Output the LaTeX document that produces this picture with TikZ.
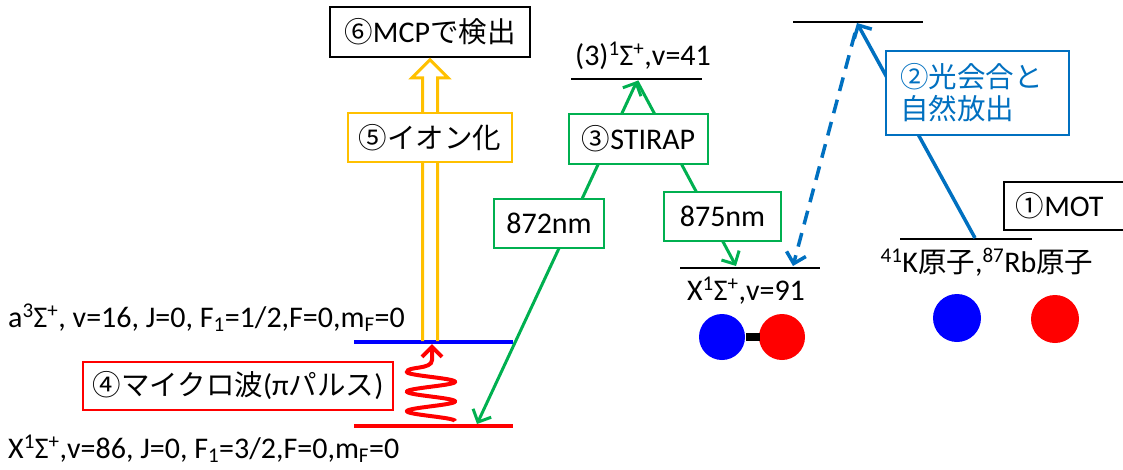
\documentclass[tikz,border=0pt]{standalone}
\usepackage{fontspec}
\setmainfont{Carlito}
\newfontfamily\jp[Scale=0.95]{Noto Sans CJK JP}
\usetikzlibrary{arrows.meta,calc}
\definecolor{obl}{RGB}{0,112,192}
\definecolor{ogr}{RGB}{0,176,80}
\definecolor{oyl}{RGB}{255,192,0}
\begin{document}
\begin{tikzpicture}[x=1pt,y=-1pt,
  every node/.style={font=\fontsize{30}{32}\selectfont, inner sep=0pt},
  lvl/.style={line width=2pt},
  box/.style={draw, line width=1.5pt, fill=white, minimum width=#1, minimum height=49},
  barb/.style={-{Straight Barb[length=10pt,width=20pt]}},
  grn/.style={ogr, line width=3pt},
  bl/.style={obl, line width=3.5pt}
]
\useasboundingbox (0,0) rectangle (1123,469);
\clip (0,0) rectangle (1123,469);
% level coordinates
\coordinate (topL) at (793,22); \coordinate (topR) at (923,22);
\coordinate (v41L) at (571,79); \coordinate (v41R) at (702,79);
\coordinate (v91L) at (680,268); \coordinate (v91R) at (820,268);
\coordinate (motL) at (900,239); \coordinate (motR) at (1032,239);
\coordinate (aL) at (354,342); \coordinate (aR) at (513,342);
\coordinate (xL) at (354,426); \coordinate (xR) at (513,426);
% levels
\draw[lvl] (topL) -- (topR);
\draw[lvl] (v41L) -- (v41R);
\draw[lvl] (v91L) -- (v91R);
\draw[lvl] (motL) -- (motR);
\draw[line width=4pt, blue] (aL) -- (aR);
\draw[line width=4pt, red] (xL) -- (xR);
% connector end points
\coordinate (apex) at (637,81);
\coordinate (x86p) at (477,424);
\coordinate (v91p) at (736,266);
\coordinate (pa) at (857,23);
\coordinate (motp) at (975,238);
\coordinate (ds) at (855,33);
\coordinate (v91q) at (793,266);
\coordinate (ionb) at (430,341);
\coordinate (mwtop) at (432,344);
% green STIRAP arrows
\draw[grn, {Straight Barb[length=10pt,width=20pt]}-{Straight Barb[length=10pt,width=20pt]}] (x86p) -- (apex);
\draw[grn, barb] (apex) -- (v91p);
% blue arrows
\draw[bl, barb] (motp) -- (pa);
\draw[bl, barb, dash pattern=on 14pt off 9pt] (ds) -- (v91q);
% microwave
\draw[red, line width=4pt, barb]
  plot[domain=0:5, samples=120, smooth] ({431+24*cos(180*\x)}, {421-9.8*\x})
  .. controls (407,366) and (432,370) .. (432,360) -- (mwtop);
% MCP box and ionisation arrow
\node[box=200, minimum height=50] (mcp) at (430,32) {{\jp ⑥}MCP{\jp で検出}};
\draw[oyl, line width=3pt, line join=miter]
  ($(ionb)+(-7.5,0)$) -- ($(mcp.south)+(-7.5,20)$) -- ($(mcp.south)+(-18,20)$)
  -- ($(mcp.south)+(0,2)$) -- ($(mcp.south)+(18,20)$) -- ($(mcp.south)+(7.5,20)$)
  -- ($(ionb)+(7.5,0)$);
% boxes
\node[box=164, draw=oyl] (ion) at (430,137.5) {{\jp ⑤イオン化}};
\node[box=139, minimum height=50, draw=ogr] (stirap) at (638.5,139) {{\jp ③}STIRAP};
\node[box=110, draw=ogr] (n872) at (549,223.5) {872nm};
\node[box=117, draw=ogr] (n875) at (722.5,216.5) {875nm};
\node[box=183, minimum height=84, draw=obl, text=obl, text width=155pt, align=left] (pabox) at (977.5,93) {\jp ②光会合と\\自然放出};
\node[box=310, minimum height=48, draw=red] (mw) at (238,386) {{\jp ④マイクロ波}(π{\jp パルス})};
\node[draw, line width=1.5pt, anchor=west, minimum height=48, inner xsep=12pt] (mot) at (1003,206) {{\jp ①}MOT\hspace*{30pt}};
% labels
\node[anchor=base west] (lblA) at (8,327) {a\textsuperscript{3}Σ\textsuperscript{+}, v=16, J=0, F\textsubscript{1}=1/2,F=0,m\textsubscript{F}=0};
\node[anchor=base west] (lblX) at (8,458) {X\textsuperscript{1}Σ\textsuperscript{+},v=86, J=0, F\textsubscript{1}=3/2,F=0,m\textsubscript{F}=0};
\node[anchor=base] (lbl41) at (643,65) {(3)\textsuperscript{1}Σ\textsuperscript{+},v=41};
\node[anchor=base] (lbl91) at (746,300) {X\textsuperscript{1}Σ\textsuperscript{+},v=91};
\node[anchor=base] (lblmot) at (987,272) {\textsuperscript{41}K{\jp 原子},\textsuperscript{87}Rb{\jp 原子}};
% atoms and molecule
\fill[blue] (722,337) circle[radius=23pt];
\fill[red] (782,337) circle[radius=23pt];
\fill (746,333) rectangle (760,341);
\fill[blue] (957,318) circle[radius=24pt];
\fill[red] (1055,319) circle[radius=24pt];
\end{tikzpicture}
\end{document}
